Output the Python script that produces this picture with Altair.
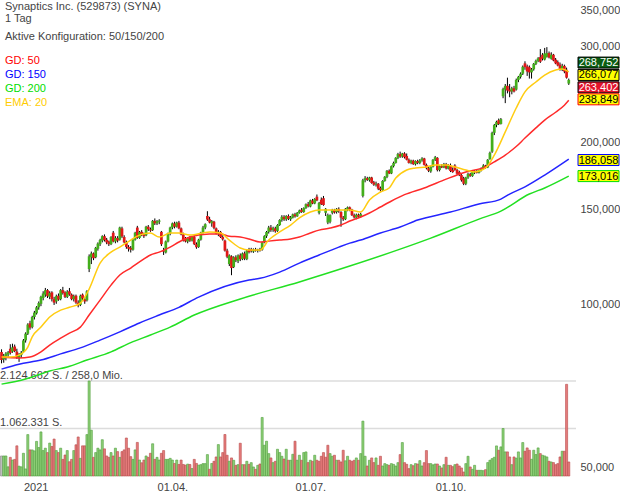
import altair as alt
import pandas as pd

# ---------------- data ----------------
opens = [
    81.9, 79.3, 80.4, 81.0, 83.0, 82.0, 83.8, 82.0, 79.8, 80.8,
    82.0, 86.0, 88.5, 92.5, 91.0, 95.0, 96.5, 99.0, 100.5, 103.0,
    104.5, 106.5, 103.5, 105.5, 102.5, 101.5, 104.0, 102.5, 106.5, 105.5,
    103.5, 106.0, 104.5, 102.5, 104.0, 101.0, 100.0, 104.5, 102.5, 102.0,
    116.5, 122.5, 124.5, 122.5, 127.0, 129.5, 131.5, 134.0, 132.0, 131.0,
    129.5, 136.0, 131.0, 133.0, 132.0, 138.5, 133.5, 130.5, 128.0, 127.5,
    126.5, 132.0, 139.0, 133.0, 136.5, 135.0, 134.5, 139.5, 138.0, 137.5,
    143.0, 141.5, 142.5, 136.5, 126.0, 125.0, 131.0, 135.5, 139.0, 141.5,
    139.5, 142.0, 138.5, 135.0, 132.5, 131.0, 133.5, 131.5, 133.5, 129.5,
    128.0, 132.0, 136.0, 139.0, 146.0, 144.0, 141.5, 142.5, 138.5, 135.5,
    136.5, 133.5, 131.5, 126.0, 119.0, 123.0, 117.5, 122.5, 120.5, 123.5,
    121.5, 124.5, 121.5, 126.5, 126.8, 125.5, 126.5, 126.0, 126.6, 126.5,
    130.5, 134.0, 136.5, 139.0, 137.5, 138.5, 137.0, 140.5, 143.5, 145.5,
    144.0, 146.0, 144.0, 145.0, 147.0, 145.8, 148.0, 150.0, 148.5, 151.0,
    153.5, 152.0, 156.0, 154.0, 158.5, 148.0, 156.5, 157.5, 148.0, 142.0,
    142.5, 148.0, 149.8, 148.5, 150.5, 148.5, 145.0, 144.0, 150.0, 151.5,
    150.0, 146.5, 145.0, 146.8, 145.5, 159.0, 170.0, 171.5, 170.0, 172.0,
    168.5, 166.8, 167.5, 164.5, 163.0, 169.5, 172.5, 177.0, 175.0, 180.5,
    183.0, 187.0, 190.0, 188.0, 190.5, 188.5, 185.5, 183.0, 184.8, 182.0,
    184.5, 183.0, 185.0, 186.5, 181.5, 179.0, 176.5, 180.0, 185.5, 187.0,
    177.5, 180.5, 179.5, 182.0, 178.5, 181.0, 177.5, 181.0, 177.6, 176.0,
    173.8, 171.5, 167.5, 172.0, 174.5, 173.0, 176.0, 176.8, 175.5, 177.5,
    178.8, 181.0, 179.5, 186.0, 192.0, 208.0, 215.0, 219.5, 216.0, 243.0,
    250.0, 254.0, 250.0, 248.0, 251.5, 250.0, 260.5, 264.0, 267.5, 279.5,
    276.0, 275.0, 269.0, 272.5, 279.0, 282.5, 287.0, 290.0, 284.0, 287.5,
    292.0, 285.0, 290.0, 284.0, 281.0, 278.0, 272.0, 276.5, 272.0, 256.5,
]
highs = [
    82.8, 81.2, 81.8, 82.2, 84.6, 84.8, 84.5, 83.0, 81.5, 82.2,
    86.5, 89.0, 92.5, 93.5, 95.5, 97.5, 99.5, 101.5, 104.0, 106.0,
    107.5, 107.0, 106.0, 106.0, 103.5, 104.5, 105.0, 107.0, 108.0, 106.0,
    106.5, 107.5, 105.0, 104.5, 104.5, 102.0, 104.5, 105.0, 103.5, 106.5,
    124.0, 125.5, 125.0, 128.0, 130.5, 132.5, 134.5, 135.0, 133.0, 131.5,
    134.0, 137.0, 134.0, 134.0, 139.5, 139.5, 134.5, 131.5, 129.0, 128.5,
    132.5, 136.5, 140.0, 137.0, 137.5, 136.0, 140.0, 140.5, 139.0, 143.5,
    144.5, 143.5, 144.0, 137.0, 127.5, 131.5, 136.0, 139.5, 142.0, 142.5,
    142.5, 143.0, 139.0, 136.0, 133.5, 133.5, 134.0, 134.0, 134.5, 130.5,
    132.5, 136.5, 140.0, 141.5, 149.0, 145.5, 143.5, 143.0, 139.0, 137.5,
    137.0, 134.5, 132.0, 127.0, 124.0, 123.5, 123.0, 123.5, 124.0, 124.5,
    125.0, 125.5, 126.5, 127.5, 127.5, 127.2, 127.5, 127.0, 127.5, 131.0,
    134.5, 137.0, 140.0, 140.5, 139.5, 139.5, 141.0, 144.0, 146.5, 146.5,
    146.5, 147.0, 146.0, 147.5, 148.0, 148.5, 150.0, 151.0, 151.5, 154.0,
    155.0, 156.5, 157.0, 157.5, 160.0, 155.0, 158.0, 159.0, 151.0, 147.5,
    147.0, 150.5, 150.5, 151.0, 151.5, 149.0, 146.0, 151.0, 152.0, 152.0,
    150.5, 147.5, 147.5, 147.5, 148.0, 171.0, 173.0, 172.5, 172.5, 172.5,
    169.5, 169.0, 168.0, 165.5, 170.0, 173.0, 177.5, 178.0, 181.0, 184.0,
    187.5, 191.0, 192.0, 191.0, 191.5, 190.5, 186.5, 185.5, 185.5, 185.0,
    185.5, 186.0, 187.5, 187.0, 182.5, 180.0, 180.5, 186.0, 188.5, 187.5,
    181.0, 182.0, 183.0, 183.0, 182.0, 182.5, 179.5, 182.0, 178.5, 177.0,
    174.5, 172.5, 172.5, 175.5, 175.5, 176.5, 177.5, 177.5, 178.0, 179.5,
    182.0, 181.5, 186.0, 192.0, 209.0, 216.0, 219.0, 221.0, 221.5, 252.0,
    256.0, 263.0, 256.0, 253.0, 254.0, 262.0, 265.0, 269.0, 277.0, 282.0,
    278.0, 277.0, 274.0, 280.0, 284.0, 287.0, 297.0, 292.0, 298.5, 299.5,
    294.0, 293.0, 291.0, 286.0, 283.0, 280.5, 279.0, 278.0, 274.5, 262.0,
]
lows = [
    78.0, 78.2, 79.0, 79.8, 81.0, 81.6, 81.8, 79.5, 78.5, 79.8,
    81.5, 85.2, 88.0, 90.0, 90.5, 94.0, 96.0, 98.0, 99.5, 102.0,
    103.5, 103.0, 102.5, 101.5, 100.0, 100.5, 101.8, 102.0, 104.5, 103.0,
    103.0, 104.0, 102.0, 101.5, 100.5, 99.0, 99.5, 102.0, 100.5, 101.5,
    115.0, 119.0, 121.0, 122.0, 126.0, 128.5, 130.5, 131.0, 129.5, 128.5,
    129.0, 130.5, 130.0, 130.5, 131.5, 133.0, 130.0, 127.0, 125.5, 125.0,
    126.0, 131.5, 132.5, 132.5, 134.0, 133.0, 134.0, 137.0, 136.5, 137.0,
    140.5, 140.5, 141.0, 128.5, 123.7, 124.5, 130.5, 134.5, 138.0, 138.5,
    139.0, 138.0, 134.5, 131.0, 130.5, 130.0, 130.8, 131.0, 129.0, 127.0,
    127.5, 131.5, 135.5, 138.0, 143.0, 141.5, 139.5, 138.0, 135.0, 134.0,
    133.0, 131.5, 125.5, 122.0, 118.0, 113.5, 117.0, 120.0, 119.5, 120.5,
    121.0, 121.0, 121.0, 124.5, 125.0, 124.8, 125.5, 125.0, 125.5, 126.0,
    130.0, 133.0, 135.5, 136.5, 136.5, 136.0, 136.5, 140.0, 142.5, 143.0,
    143.0, 143.5, 143.0, 144.5, 145.0, 145.5, 147.5, 148.0, 148.0, 150.5,
    151.5, 151.5, 153.5, 153.5, 155.5, 147.0, 153.0, 152.5, 146.0, 141.0,
    141.5, 147.0, 147.5, 147.5, 148.0, 139.5, 143.0, 143.5, 149.0, 149.0,
    146.0, 144.5, 144.0, 144.8, 145.0, 158.0, 168.5, 169.5, 169.0, 167.5,
    166.0, 165.5, 163.0, 162.0, 162.5, 169.0, 171.5, 174.5, 174.5, 179.5,
    182.5, 186.0, 187.0, 187.0, 186.5, 185.0, 182.5, 182.0, 181.5, 181.0,
    182.0, 182.0, 184.0, 181.0, 178.0, 176.0, 175.5, 179.5, 184.5, 176.5,
    176.5, 179.0, 179.0, 178.0, 178.0, 176.0, 175.5, 177.0, 174.0, 173.0,
    169.0, 166.5, 166.5, 171.0, 172.5, 172.5, 174.5, 175.0, 175.0, 176.5,
    178.0, 178.5, 179.0, 185.5, 191.0, 206.0, 213.0, 215.0, 215.5, 241.0,
    236.0, 246.0, 242.0, 245.0, 247.0, 249.0, 258.0, 262.0, 266.0, 272.0,
    265.0, 262.0, 262.0, 271.0, 277.5, 281.0, 280.0, 283.0, 283.0, 286.5,
    285.5, 284.0, 282.0, 278.5, 276.0, 271.0, 270.5, 268.0, 262.0, 255.0,
]
closes = [
    79.1, 80.6, 81.3, 81.8, 81.5, 83.5, 82.2, 80.0, 80.9, 81.6,
    86.0, 88.5, 92.0, 90.8, 95.0, 96.8, 99.0, 100.8, 103.5, 105.0,
    106.5, 103.8, 105.2, 102.5, 101.0, 103.8, 102.3, 106.5, 105.2, 103.5,
    105.8, 104.5, 102.5, 103.8, 101.0, 99.8, 104.0, 102.8, 101.5, 106.0,
    123.0, 124.5, 122.0, 127.5, 129.8, 131.8, 134.0, 131.8, 130.5, 129.5,
    133.5, 131.0, 133.0, 131.5, 139.0, 133.8, 130.5, 128.0, 127.0, 126.5,
    132.0, 136.0, 133.0, 136.5, 135.0, 134.0, 139.5, 138.0, 137.2, 143.0,
    141.5, 142.8, 143.2, 129.5, 125.5, 131.0, 135.5, 139.0, 141.5, 139.5,
    142.0, 138.5, 135.0, 131.5, 131.0, 132.8, 131.5, 133.5, 129.5, 127.8,
    132.0, 136.0, 139.0, 141.0, 143.8, 142.0, 142.8, 138.8, 135.5, 136.5,
    133.5, 132.2, 126.0, 122.8, 123.5, 117.0, 122.5, 121.0, 123.5, 121.5,
    124.5, 121.8, 126.0, 125.2, 125.8, 126.5, 126.0, 126.6, 126.2, 130.5,
    134.0, 136.4, 139.0, 137.5, 138.8, 136.8, 140.5, 143.5, 145.5, 144.0,
    146.0, 144.2, 145.2, 147.0, 145.8, 148.0, 149.5, 148.5, 151.0, 153.5,
    152.2, 156.0, 154.0, 157.0, 156.0, 154.4, 153.5, 153.0, 150.5, 146.5,
    146.6, 149.8, 148.2, 150.5, 149.0, 145.0, 144.0, 150.5, 151.5, 150.0,
    146.5, 145.2, 146.8, 145.5, 147.2, 170.0, 171.5, 170.2, 172.0, 168.0,
    166.8, 167.5, 164.0, 163.0, 169.5, 172.5, 177.0, 175.0, 180.5, 183.0,
    187.0, 190.0, 188.0, 190.5, 187.5, 185.5, 183.0, 184.8, 182.0, 184.5,
    183.0, 185.0, 186.5, 181.5, 179.0, 177.0, 180.0, 185.5, 187.5, 177.5,
    180.5, 179.5, 182.0, 178.8, 181.2, 176.8, 176.0, 177.6, 174.8, 173.8,
    170.0, 167.5, 172.0, 174.5, 173.2, 176.0, 176.8, 175.5, 177.5, 178.8,
    181.0, 179.5, 185.5, 191.0, 208.0, 215.0, 218.0, 216.0, 220.5, 250.5,
    254.0, 249.0, 248.0, 251.5, 248.0, 260.5, 264.0, 267.5, 275.5, 275.0,
    270.0, 269.0, 272.5, 279.0, 282.5, 285.5, 281.5, 285.0, 291.5, 292.0,
    286.5, 290.0, 283.0, 279.5, 277.0, 272.0, 276.5, 270.0, 263.0, 260.5,
]
# volume in thousands of shares
volumes_k = [
    448, 448, 448, 205, 417, 357, 372, 675, 220, 205,
    508, 159, 926, 584, 584, 562, 774, 637, 986, 569,
    622, 524, 736, 660, 827, 569, 524, 622, 372, 470,
    569, 319, 372, 569, 698, 873, 395, 675, 675, 926,
    2125, 1024, 417, 524, 622, 584, 812, 607, 448, 417,
    524, 448, 622, 546, 417, 546, 584, 850, 622, 433,
    372, 584, 751, 357, 296, 357, 448, 417, 508, 721,
    372, 417, 357, 508, 569, 372, 372, 395, 357, 281,
    357, 258, 357, 258, 243, 266, 258, 167, 372, 281,
    243, 254, 277, 277, 479, 150, 280, 329, 426, 703,
    426, 524, 928, 464, 330, 404, 352, 239, 254, 733,
    254, 254, 329, 260, 299, 202, 150, 239, 269, 1309,
    688, 778, 501, 404, 299, 329, 598, 524, 441, 380,
    598, 352, 352, 486, 778, 352, 464, 352, 524, 539,
    300, 352, 329, 464, 352, 329, 441, 524, 420, 688,
    501, 441, 464, 352, 352, 314, 576, 340, 441, 352,
    329, 352, 404, 352, 501, 1227, 441, 224, 352, 404,
    300, 404, 239, 441, 224, 277, 254, 239, 277, 260,
    224, 299, 479, 748, 299, 262, 165, 254, 230, 277,
    269, 344, 224, 299, 569, 277, 277, 250, 269, 269,
    224, 180, 254, 419, 239, 239, 210, 254, 269, 224,
    180, 90, 277, 441, 202, 150, 239, 127, 127, 127,
    120, 142, 300, 352, 389, 419, 673, 576, 651, 1062,
    539, 539, 426, 254, 426, 400, 539, 404, 748, 554,
    628, 576, 374, 576, 480, 628, 501, 464, 449, 426,
    329, 314, 300, 254, 277, 426, 554, 554, 2050, 314,
]

ema20_idx = [0, 4, 8, 12, 14, 18, 22, 27, 31, 36, 40, 45, 50, 54, 59, 63, 68, 72, 77, 81,
             86, 95, 100, 104, 109, 113, 118, 122, 127, 132, 136, 141, 145, 150, 155, 159,
             164, 168, 173, 177, 180, 185, 189, 194, 198, 203, 207, 212, 216, 221, 225,
             230, 235, 239, 244, 248, 253, 256, 259]
ema20_val = [80.1, 80.1, 80.8, 83.6, 87.3, 91.0, 95.0, 97.8, 99.0, 100.8, 107.0, 119.5,
             125.2, 127.9, 131.8, 134.6, 135.8, 133.5, 135.8, 135.8, 134.6, 136.4, 135.8,
             131.8, 127.4, 126.3, 126.3, 131.8, 136.4, 140.5, 144.8, 148.5, 149.8, 149.8,
             149.8, 149.8, 148.5, 156.3, 161.7, 164.5, 171.6, 177.6, 179.1, 179.9, 181.4,
             181.4, 179.9, 177.6, 176.1, 179.1, 189.2, 208.8, 231.2, 247.6, 258.2, 266.0,
             271.7, 272.8, 269.5]

gd50_idx = [0, 8, 13, 18, 22, 27, 31, 36, 40, 45, 50, 54, 59, 63, 68, 72, 77, 81, 86, 95,
            100, 104, 109, 113, 118, 122, 127, 132, 136, 141, 145, 150, 155, 159, 164, 168,
            173, 177, 184, 193, 203, 212, 221, 225, 230, 235, 239, 244, 248, 253, 257, 259]
gd50_val = [80.1, 79.8, 80.1, 81.9, 84.3, 86.8, 88.7, 91.0, 95.8, 102.1, 108.8, 113.6,
            117.0, 120.1, 123.7, 125.2, 127.9, 130.7, 133.5, 135.2, 135.2, 134.0, 133.5,
            132.4, 130.7, 131.2, 131.8, 132.4, 133.5, 135.8, 137.5, 138.7, 140.5, 142.9,
            145.4, 147.9, 151.7, 154.8, 159.9, 164.5, 170.8, 176.1, 179.9, 183.8, 189.2,
            196.2, 203.4, 212.4, 219.6, 227.0, 233.9, 238.8]

gd150_idx = [0, 8, 18, 27, 36, 45, 54, 63, 72, 81, 90, 113, 118, 127, 136, 145, 154, 159,
             164, 173, 182, 190, 205, 218, 228, 232, 239, 248, 259]
gd150_val = [76.1, 77.7, 79.1, 81.2, 83.3, 86.1, 89.2, 92.6, 95.8, 99.0, 103.4, 111.2,
             112.0, 115.0, 119.5, 123.7, 127.9, 130.1, 131.8, 135.8, 139.3, 143.5, 148.5,
             153.6, 156.9, 160.3, 165.3, 173.8, 186.0]

gd200_idx = [0, 11, 19, 22, 30, 39, 50, 59, 68, 77, 88, 109, 136, 159, 182, 196, 218, 228,
             241, 248, 259]
gd200_val = [71.4, 73.0, 74.8, 75.5, 76.8, 79.1, 81.9, 85.2, 88.0, 91.0, 95.8, 102.6,
             110.3, 118.0, 126.8, 132.9, 144.1, 149.1, 160.3, 164.5, 173.0]

tick_idx = [10, 71, 134, 198]
tick_labels = ["2021", "01.04.", "01.07.", "01.10."]
price_ticks = [50, 100, 150, 200, 300, 350]

box_values = [268.752, 266.077, 263.402, 238.849, 186.058, 173.016]

vol_max = 2124662
vol_half = 1062331
turnover_text = "258,0 Mio."

title_lines = ["Synaptics Inc. (529873) (SYNA)", "1 Tag", "Aktive Konfiguration: 50/150/200"]
legend_labels = ["GD: 50", "GD: 150", "GD: 200", "EMA: 20"]

# ---------------- layout / style ----------------
W, H = 576, 476
FONT = "Arial"
TXT = "#444444"
C_UP, C_DN = "#43ae1b", "#e01717"
V_UP, V_DN, V_FLAT = "#8fd078", "#e67d7d", "#bdbdbd"
VS_UP, VS_DN, VS_FLAT = "#4f9e3c", "#b84a4a", "#888888"
LINE_COLORS = {"gd50": "#ff2a2a", "gd150": "#2424ff", "gd200": "#22e022", "ema": "#ffcc11"}
LEGEND_COLORS = ["#ff0000", "#0000ff", "#00dd00", "#ffcc00"]

n = len(closes)
df = pd.DataFrame({
    "i": list(range(n)), "o": opens, "h": highs, "l": lows, "c": closes,
    "v": [v * 1000 for v in volumes_k],
})
df["col"] = [C_UP if c >= o else C_DN for o, c in zip(opens, closes)]
vfill, vstroke = [V_FLAT], [VS_FLAT]
for k in range(1, n):
    up = closes[k] >= closes[k - 1]
    vfill.append(V_UP if up else V_DN)
    vstroke.append(VS_UP if up else VS_DN)
df["vfill"] = vfill
df["vstroke"] = vstroke

xscale = alt.Scale(domain=[-0.7, 262.3], nice=False, zero=False)
pscale = alt.Scale(type="log", domain=[48.3, 366.0], nice=False)
vscale = alt.Scale(domain=[0, 10645000], nice=False, zero=True)

label_expr = ""
for t, lab in zip(tick_idx, tick_labels):
    label_expr += f"datum.value == {t} ? '{lab}' : "
label_expr += "''"
xaxis = alt.Axis(values=tick_idx, labelExpr=label_expr, title=None, grid=False, domain=False,
                 ticks=False, labelAlign="left", labelPadding=5, labelFontSize=11,
                 labelColor=TXT, labelFont=FONT, labelFlush=False, labelOverlap=False)
yaxis = alt.Axis(values=price_ticks, orient="right", title=None, grid=False, domain=False,
                 ticks=False, labelPadding=4, labelFontSize=11, labelColor=TXT, labelFont=FONT,
                 labelExpr="replace(format(datum.value, '.3f'), '.', ',')", labelFlush=False,
                 labelOverlap=False)

base = alt.Chart(df)

# volume
grid_df = pd.DataFrame({"v": [vol_max, vol_half]})
vol_grid = alt.Chart(grid_df).mark_rule(color="#dcdcdc", strokeWidth=1.5).encode(
    y=alt.Y("v:Q", scale=vscale, axis=None), x=alt.value(0), x2=alt.value(W))

def de_num(v):
    return f"{v:,}".replace(",", ".")

vol_text_df = pd.DataFrame({"v": [vol_max, vol_half],
                            "t": [de_num(vol_max) + " S. / " + turnover_text, de_num(vol_half) + " S."]})
vol_text = alt.Chart(vol_text_df).mark_text(align="left", baseline="alphabetic", dy=-2, dx=0,
                                            fontSize=11, font=FONT, color=TXT).encode(
    y=alt.Y("v:Q", scale=vscale, axis=None), x=alt.value(0), text="t:N")

vol_bars = base.transform_calculate(vx1="datum.i - 0.47", vx2="datum.i + 0.47").mark_rect(
    strokeWidth=0.6).encode(
    x=alt.X("vx1:Q", scale=xscale, axis=xaxis), x2="vx2:Q",
    y=alt.Y("v:Q", scale=vscale, axis=None), y2=alt.datum(0),
    fill=alt.Fill("vfill:N", scale=None), stroke=alt.Stroke("vstroke:N", scale=None))

# candles
wicks = base.mark_rule(color="#000000", strokeWidth=1).encode(
    x=alt.X("i:Q", scale=xscale, axis=xaxis),
    y=alt.Y("l:Q", scale=pscale, axis=None), y2="h:Q")
bodies = base.transform_calculate(bx1="datum.i - 0.62", bx2="datum.i + 0.62").mark_rect().encode(
    x=alt.X("bx1:Q", scale=xscale, axis=xaxis), x2="bx2:Q",
    y=alt.Y("o:Q", scale=pscale, axis=yaxis), y2="c:Q",
    fill=alt.Fill("col:N", scale=None))

def ma_layer(idx, val, color):
    d = pd.DataFrame({"i": idx, "p": val})
    return alt.Chart(d).mark_line(color=color, strokeWidth=1.5, interpolate="monotone").encode(
        x=alt.X("i:Q", scale=xscale, axis=xaxis),
        y=alt.Y("p:Q", scale=pscale, axis=None))

lines = [
    ma_layer(gd200_idx, gd200_val, LINE_COLORS["gd200"]),
    ma_layer(gd150_idx, gd150_val, LINE_COLORS["gd150"]),
    ma_layer(gd50_idx, gd50_val, LINE_COLORS["gd50"]),
    ma_layer(ema20_idx, ema20_val, LINE_COLORS["ema"]),
]

# header texts
def label(text, y, color, size=11):
    d = pd.DataFrame({"t": [text]})
    return alt.Chart(d).mark_text(align="left", baseline="alphabetic", fontSize=size, font=FONT,
                                  color=color).encode(x=alt.value(5), y=alt.value(y), text="t:N")

header_y = [9.5, 21.5, 39.5]
legend_y = [64, 78, 92, 105.5]
headers = [label(t, y, TXT) for t, y in zip(title_lines, header_y)]
headers += [label(t, y, c) for t, y, c in zip(legend_labels, legend_y, LEGEND_COLORS)]

# value boxes on the right
box_offsets = [-10, 0, 10, -1, 1, 0]
box_fill = ["#0b5d12", "#ffff00", "#e3132b", "#ffff00", "#ffff00", "#ffff00"]
box_stroke = ["#000000", "#000000", "#000000", "#ff0000", "#0000ff", "#00dd00"]
box_text = ["#ffffff", "#000000", "#ffffff", "#000000", "#000000", "#000000"]
boxes = []
for val, off, f, s, tc in zip(box_values, box_offsets, box_fill, box_stroke, box_text):
    d = pd.DataFrame({"p": [val], "t": [f"{val:.3f}".replace(".", ",")]})
    rect = alt.Chart(d).mark_rect(fill=f, stroke=s, strokeWidth=1, yOffset=off - 5.5,
                                  y2Offset=off + 5.5).encode(
        x=alt.value(578), x2=alt.value(619),
        y=alt.Y("p:Q", scale=pscale, axis=None), y2="p:Q")
    txt = alt.Chart(d).mark_text(align="center", baseline="middle", fontSize=11, font=FONT,
                                 color=tc, dy=off + 0.5).encode(
        x=alt.value(598.5), y=alt.Y("p:Q", scale=pscale, axis=None), text="t:N")
    boxes += [rect, txt]

chart = alt.layer(
    vol_grid, vol_bars, vol_text, wicks, bodies, *lines, *headers, *boxes
).resolve_scale(y="independent").properties(
    width=W, height=H,
    padding={"left": 0, "top": 0, "right": 44, "bottom": 20},
    autosize=alt.AutoSizeParams(type="none"),
    background="#ffffff",
).configure_view(stroke=None)

chart.save("out.html", embed_options={"renderer": "svg", "actions": False})
